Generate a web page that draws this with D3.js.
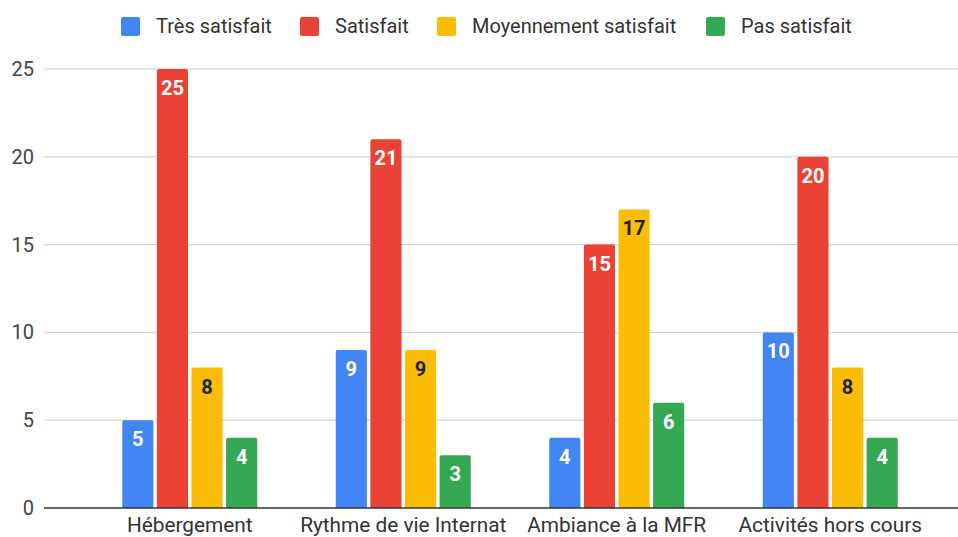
<!DOCTYPE html>
<html>
<head>
<meta charset="utf-8">
<script src="https://cdn.jsdelivr.net/npm/d3@7"></script>
<style>
  body { margin: 0; background: #fff; }
  svg { display: block; font-family: Roboto, Arial, sans-serif; }
</style>
</head>
<body>
<script>
'use strict';

const categories = ['Hébergement', 'Rythme de vie Internat', 'Ambiance à la MFR', 'Activités hors cours'];
const series = ['Très satisfait', 'Satisfait', 'Moyennement satisfait', 'Pas satisfait'];
const tresSatisfait = [5, 9, 4, 10];
const satisfait = [25, 21, 15, 20];
const moyennement = [8, 9, 17, 8];
const pasSatisfait = [4, 3, 6, 4];
const yTicks = [0, 5, 10, 15, 20, 25];

const colors = ['#4285f4', '#ea4335', '#fbbc04', '#34a853'];
const labelColors = ['#ffffff', '#ffffff', '#222222', '#ffffff'];
const values = [tresSatisfait, satisfait, moyennement, pasSatisfait];

const W = 958, H = 537;
const svg = d3.select('body').append('svg').attr('width', W).attr('height', H);

const x0 = d3.scaleBand().domain(categories).range([83, 937]);
const x1 = d3.scaleBand().domain(series).range([-67.5, 67.5]).paddingInner(0.1);
const y = d3.scaleLinear().domain([0, 25]).range([508, 69]);

// grid lines
svg.append('g').selectAll('line')
	.data(yTicks.filter(t => t > 0))
	.enter().append('line')
	.attr('x1', 44).attr('x2', W)
	.attr('y1', d => y(d)).attr('y2', d => y(d))
	.attr('stroke', '#cccccc').attr('stroke-width', 1);

// y axis labels
svg.append('g').selectAll('text')
	.data(yTicks)
	.enter().append('text')
	.attr('x', 34).attr('y', d => y(d) + 7)
	.attr('text-anchor', 'end')
	.attr('font-size', 20).attr('fill', '#444')
	.text(d => d);

// bars
const r = 2;
function barPath(x, yTop, w, yBase) {
	return 'M' + x + ',' + yBase +
		'V' + (yTop + r) +
		'Q' + x + ',' + yTop + ' ' + (x + r) + ',' + yTop +
		'H' + (x + w - r) +
		'Q' + (x + w) + ',' + yTop + ' ' + (x + w) + ',' + (yTop + r) +
		'V' + yBase + 'Z';
}

series.forEach((s, si) => {
	const g = svg.append('g');
	const data = categories.map((c, ci) => ({ c: c, v: values[si][ci] }));
	g.selectAll('path')
		.data(data)
		.enter().append('path')
		.attr('d', d => barPath(x0(d.c) + x0.bandwidth() / 2 + x1(s), y(d.v), x1.bandwidth(), y(0)))
		.attr('fill', colors[si]);
	g.selectAll('text')
		.data(data)
		.enter().append('text')
		.attr('x', d => x0(d.c) + x0.bandwidth() / 2 + x1(s) + x1.bandwidth() / 2)
		.attr('y', d => y(d.v) + 26)
		.attr('text-anchor', 'middle')
		.attr('font-size', 20).attr('font-weight', 'bold')
		.attr('fill', labelColors[si])
		.text(d => d.v);
});

// baseline
svg.append('line')
	.attr('x1', 44).attr('x2', W)
	.attr('y1', y(0)).attr('y2', y(0))
	.attr('stroke', '#333').attr('stroke-width', 1.5);

// x labels
svg.append('g').selectAll('text')
	.data(categories)
	.enter().append('text')
	.attr('x', d => x0(d) + x0.bandwidth() / 2)
	.attr('y', 532)
	.attr('text-anchor', 'middle')
	.attr('font-size', 20.8).attr('fill', '#333')
	.text(d => d);

// legend
const legendX = [121, 300, 437, 706];
const legend = svg.append('g');
series.forEach((s, i) => {
	legend.append('rect')
		.attr('x', legendX[i]).attr('y', 17)
		.attr('width', 19).attr('height', 19).attr('rx', 2)
		.attr('fill', colors[i]);
	legend.append('text')
		.attr('x', legendX[i] + 35).attr('y', 33)
		.attr('font-size', 20).attr('fill', '#333')
		.text(s);
});
</script>
</body>
</html>
